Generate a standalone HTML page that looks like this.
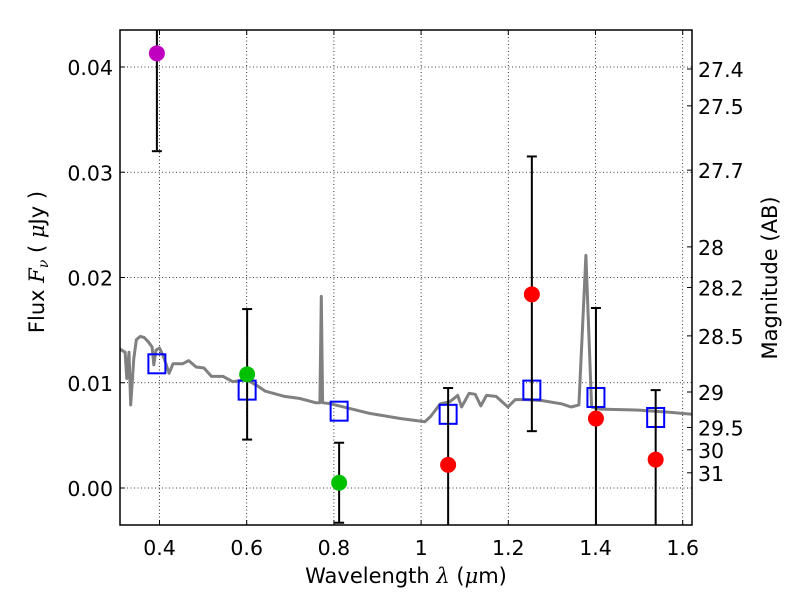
<!DOCTYPE html>
<html><head><meta charset="utf-8"><style>
html,body{margin:0;padding:0;background:#fff;}
svg{display:block;font-family:"DejaVu Sans","Liberation Sans",sans-serif;}
</style></head><body>
<svg id="chart" width="800" height="600" viewBox="0 0 800 600"></svg>
<script>
const xTicks=[0.4,0.6,0.8,1.0,1.2,1.4,1.6];
const xTickLabels=["0.4","0.6","0.8","1","1.2","1.4","1.6"];
const yTicks=[0,0.01,0.02,0.03,0.04];
const yTickLabels=["0.00","0.01","0.02","0.03","0.04"];
const magTicks=[27.4,27.5,27.7,28,28.2,28.5,29,29.5,30,31];
const specLam=[0.309,0.321,0.325,0.330,0.334,0.341,0.347,0.356,0.365,0.374,0.383,0.387,0.392,0.400,0.409,0.422,0.431,0.453,0.467,0.484,0.502,0.519,0.546,0.568,0.599,0.621,0.643,0.687,0.722,0.758,0.768,0.771,0.774,0.793,0.881,0.952,1.009,1.022,1.044,1.066,1.084,1.093,1.110,1.124,1.137,1.150,1.172,1.199,1.216,1.243,1.278,1.322,1.344,1.362,1.378,1.391,1.410,1.499,1.569,1.622];
const specFlux=[0.0132,0.0129,0.0104,0.0129,0.0079,0.0123,0.0141,0.0144,0.0143,0.0139,0.0134,0.0117,0.0131,0.0133,0.0125,0.0109,0.0118,0.0118,0.0121,0.0115,0.0114,0.0106,0.0106,0.0101,0.0103,0.0098,0.0092,0.0087,0.0085,0.0081,0.0081,0.0182,0.0081,0.0080,0.0071,0.0066,0.0063,0.0068,0.0080,0.0082,0.0088,0.0077,0.0090,0.0089,0.0078,0.0088,0.0087,0.0077,0.0084,0.0084,0.0083,0.0080,0.0077,0.0079,0.0221,0.0077,0.0075,0.0074,0.0072,0.0070];
const obsLam=[0.394,0.601,0.812,1.062,1.254,1.401,1.538];
const obsFlux=[0.0413,0.0108,0.0005,0.0022,0.0184,0.0066,0.0027];
const obsLo=[0.0320,0.0046,-0.0033,-0.0060,0.0054,-0.0060,-0.0060];
const obsHi=[0.0450,0.0170,0.0043,0.0095,0.0315,0.0171,0.0093];
const obsColor=["#bf00bf","#00c000","#00c000","#ff0000","#ff0000","#ff0000","#ff0000"];
const modelFlux=[0.0118,0.0093,0.0073,0.0070,0.0093,0.0086,0.0067];

const L=120,R=692,T=30,B=525;
const X0=0.4,XPX=159.5,XS=436;
const Y0PX=488,YS=10525;
const xs=v=>XPX+(v-X0)*XS;
const ys=v=>Y0PX-v*YS;
const NS="http://www.w3.org/2000/svg";
const svg=document.getElementById("chart");
function mk(tag,attrs,parent){const e=document.createElementNS(NS,tag);for(const k in attrs)e.setAttribute(k,attrs[k]);(parent||svg).appendChild(e);return e;}
const defs=mk("defs",{});
const cp=mk("clipPath",{id:"clip"},defs);mk("rect",{x:L,y:T,width:R-L,height:B-T},cp);

xTicks.forEach((t,i)=>{
  const g=mk("line",{x1:xs(t),x2:xs(t),y1:T,y2:B,stroke:"#000","stroke-width":0.8,"stroke-dasharray":"1,2.5"});
  
  
  mk("line",{x1:xs(t),x2:xs(t),y1:B,y2:B-5,stroke:"#000"});
  mk("line",{x1:xs(t),x2:xs(t),y1:T,y2:T+5,stroke:"#000"});
  const tx=mk("text",{x:xs(t),y:B+30,"text-anchor":"middle","font-size":20.5});
  tx.textContent=xTickLabels[i];
  
  
});
yTicks.forEach((t,i)=>{
  const g=mk("line",{x1:L,x2:R,y1:ys(t),y2:ys(t),stroke:"#000","stroke-width":0.8,"stroke-dasharray":"1,2.5"});
  
  
  mk("line",{x1:L,x2:L+5,y1:ys(t),y2:ys(t),stroke:"#000"});
  const tx=mk("text",{x:L-7,y:ys(t)+8,"text-anchor":"end","font-size":20.5});
  tx.textContent=yTickLabels[i];
  
  
});
magTicks.forEach(m=>{
  const f=Math.pow(10,(23.9-m)/2.5);
  mk("line",{x1:R-5,x2:R,y1:ys(f),y2:ys(f),stroke:"#000"});
  const tx=mk("text",{x:R+6,y:ys(f)+8,"text-anchor":"start","font-size":20.5});
  tx.textContent=String(m);
  
  
});

const gs=mk("g",{"clip-path":"url(#clip)"});
const pts=specLam.map((l,i)=>xs(l).toFixed(1)+","+ys(specFlux[i]).toFixed(1)).join(" ");
const sp=mk("polyline",{points:pts,fill:"none",stroke:"#808080","stroke-width":3,"stroke-linejoin":"round"},gs);



modelFlux.forEach((f,i)=>{
  const r=mk("rect",{x:xs(obsLam[i])-8.5,y:ys(f)-9.5,width:17,height:19,fill:"none",stroke:"#0000ff","stroke-width":2},gs);
  
  
});
obsLam.forEach((l,i)=>{
  const x=xs(l);
  const e=mk("line",{x1:x,x2:x,y1:ys(obsLo[i]),y2:ys(obsHi[i]),stroke:"#000","stroke-width":2},gs);
  
  
  mk("line",{x1:x-5,x2:x+5,y1:ys(obsLo[i]),y2:ys(obsLo[i]),stroke:"#000","stroke-width":2},gs);
  mk("line",{x1:x-5,x2:x+5,y1:ys(obsHi[i]),y2:ys(obsHi[i]),stroke:"#000","stroke-width":2},gs);
  const c=mk("circle",{cx:x,cy:ys(obsFlux[i]),r:8,fill:obsColor[i]},gs);
  
  
});

const frame=mk("rect",{x:L,y:T,width:R-L,height:B-T,fill:"none",stroke:"#000","stroke-width":1.5});


</script>
<div style="position:absolute;left:0;top:0;width:800px;height:600px;pointer-events:none;">
<svg width="800" height="600" style="position:absolute;left:0;top:0;font-family:'DejaVu Sans','Liberation Sans',sans-serif;">
<text x="406" y="583" text-anchor="middle" font-size="21">Wavelength  <tspan font-family="'DejaVu Serif',serif" font-style="italic">λ</tspan> (<tspan font-family="'DejaVu Serif',serif" font-style="italic">μ</tspan>m)</text>
<text transform="translate(44,262) rotate(-90)" text-anchor="middle" font-size="21">Flux  <tspan font-family="'DejaVu Serif',serif" font-style="italic">F</tspan><tspan font-family="'DejaVu Serif',serif" font-style="italic" font-size="14" dy="4">ν</tspan><tspan dy="-4">  (  </tspan><tspan font-family="'DejaVu Serif',serif" font-style="italic">μ</tspan>Jy )</text>
<text transform="translate(777,278) rotate(-90)" text-anchor="middle" font-size="21">Magnitude (AB)</text>
</svg>
</div>
</body></html>
